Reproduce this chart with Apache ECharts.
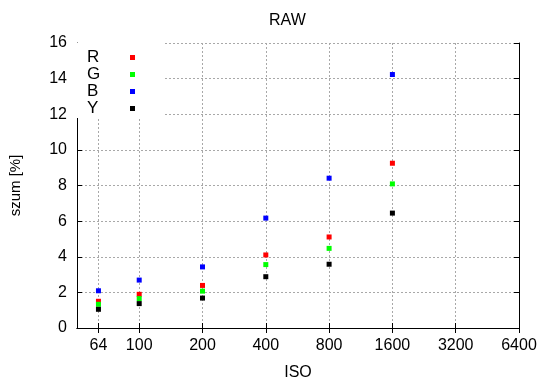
<!DOCTYPE html>
<html><head><meta charset="utf-8">
<script src="https://cdn.jsdelivr.net/npm/echarts@6/dist/echarts.min.js"></script>
<style>html,body{margin:0;padding:0;background:#fff}#c{width:550px;height:389px}</style>
</head><body><div id="c"></div>
<script>
const isoValues = [64, 100, 200, 400, 800, 1600];
const isoTicks = [64, 100, 200, 400, 800, 1600, 3200, 6400];
const seriesR = [1.50, 1.89, 2.39, 4.10, 5.11, 9.25];
const seriesG = [1.33, 1.65, 2.07, 3.56, 4.47, 8.09];
const seriesB = [2.09, 2.69, 3.43, 6.17, 8.41, 14.23];
const seriesY = [1.05, 1.37, 1.68, 2.88, 3.58, 6.45];
const seriesNames = ['R', 'G', 'B', 'Y'];
const seriesColors = ['#ff0000', '#00ff00', '#0000ff', '#000000'];
const allSeries = [seriesR, seriesG, seriesB, seriesY];

const font = 'Liberation Sans, Arial, sans-serif';
const gridStyle = { show: true, lineStyle: { color: '#a8a8a8', type: [2, 2], width: 1 } };

const chart = echarts.init(document.getElementById('c'));
const xBase = {
  type: 'log', logBase: 2, min: 50.6, max: 6400
};
chart.setOption({
  animation: false,
  backgroundColor: '#fff',
  title: { text: 'RAW', left: 264, top: 8, textStyle: { fontFamily: font, fontSize: 16, fontWeight: 'normal', color: '#000' } },
  grid: { left: 77, right: 31, top: 43, bottom: 61 },
  legend: {
    orient: 'vertical', left: 77, top: 43, align: 'right',
    backgroundColor: '#fff', padding: [6, 28, 1, 10], itemGap: 0,
    itemWidth: 5, itemHeight: 5, icon: 'rect',
    data: seriesNames,
    formatter: n => '{a|' + n + '}',
    textStyle: { fontFamily: font, fontSize: 17, color: '#000',
      rich: { a: { fontFamily: font, fontSize: 17, lineHeight: 17, width: 38, align: 'left' } } }
  },
  xAxis: [
    Object.assign({}, xBase, {
      position: 'bottom',
      name: 'ISO', nameLocation: 'middle', nameGap: 37,
      nameTextStyle: { fontFamily: font, fontSize: 16, color: '#000' },
      axisLine: { show: true, lineStyle: { color: '#000', width: 1 } },
      axisTick: { show: true, inside: true, length: 5, customValues: isoTicks, lineStyle: { color: '#000' } },
      axisLabel: { customValues: isoTicks, formatter: v => String(Math.round(v)), fontFamily: font, fontSize: 16, color: '#000', margin: 10 },
      splitLine: gridStyle, minorTick: { show: false }
    }),
    Object.assign({}, xBase, {
      position: 'top',
      axisLine: { show: true, lineStyle: { color: '#000', width: 1 } },
      axisTick: { show: true, inside: true, length: 5, customValues: isoTicks, lineStyle: { color: '#000' } },
      axisLabel: { show: false }, splitLine: { show: false }
    })
  ],
  yAxis: [
    {
      type: 'value', min: 0, max: 16, interval: 2, position: 'left',
      name: 'szum [%]', nameLocation: 'middle', nameGap: 54,
      nameTextStyle: { fontFamily: font, fontSize: 15, color: '#000' },
      axisLine: { show: true, lineStyle: { color: '#000', width: 1 } },
      axisTick: { show: true, inside: true, length: 5, lineStyle: { color: '#000' } },
      axisLabel: { fontFamily: font, fontSize: 16, color: '#000', margin: 10 },
      splitLine: gridStyle
    },
    {
      type: 'value', min: 0, max: 16, interval: 2, position: 'right',
      axisLine: { show: true, lineStyle: { color: '#000', width: 1 } },
      axisTick: { show: true, inside: true, length: 5, lineStyle: { color: '#000' } },
      axisLabel: { show: false }, splitLine: { show: false }
    }
  ],
  series: allSeries.map((vals, i) => ({
    name: seriesNames[i], type: 'scatter', symbol: 'rect', symbolSize: 5,
    itemStyle: { color: seriesColors[i], opacity: 1 },
    data: isoValues.map((iso, j) => [iso, vals[j]]),
    z: 5
  }))
});
</script></body></html>
